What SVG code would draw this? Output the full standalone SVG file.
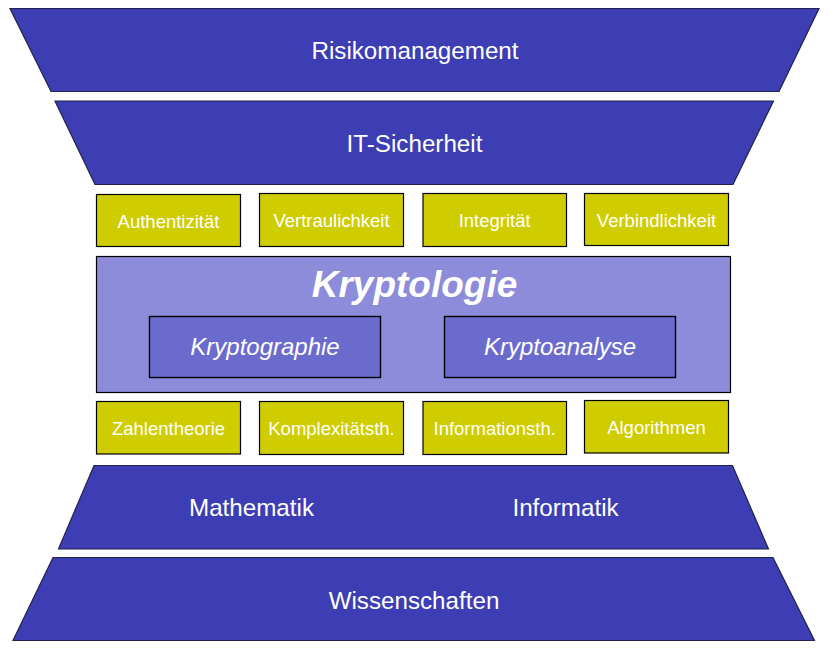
<svg xmlns="http://www.w3.org/2000/svg" width="829" height="651" viewBox="0 0 829 651">
<style>
.trap{fill:#3D3DB4;stroke:#22224a;stroke-width:1.2}
.yel{fill:#CFCC00;stroke:#000;stroke-width:1.2}
.big{fill:#8C8CDA;stroke:#000;stroke-width:1.2}
.sub{fill:#6B6BCD;stroke:#000;stroke-width:1.4}
text{font-family:"Liberation Sans",Arial,sans-serif;fill:#fff;text-anchor:middle}
.t24{font-size:24.2px}
.t18{font-size:18.5px}
.ti{font-size:24px;font-style:italic}
.tb{font-size:37px;font-style:italic;font-weight:bold}
</style>
<rect width="829" height="651" fill="#fff"/>
<g id="risikomanagement">
<polygon class="trap" points="10,8.5 819,8.5 779,91.5 51,91.5"/>
<text class="t24" x="415" y="59">Risikomanagement</text>
</g>
<g id="it-sicherheit">
<polygon class="trap" points="55,101 773.5,101 733,184.5 95,184.5"/>
<text class="t24" x="414.5" y="151.5">IT-Sicherheit</text>
</g>
<g id="authentizitaet">
<rect class="yel" x="96.5" y="194.5" width="144" height="52"/>
<text class="t18" x="168.5" y="227.5">Authentizität</text>
</g>
<g id="vertraulichkeit">
<rect class="yel" x="259.5" y="193.5" width="144" height="53"/>
<text class="t18" x="331.5" y="226.5">Vertraulichkeit</text>
</g>
<g id="integritaet">
<rect class="yel" x="423" y="193.5" width="143.5" height="53"/>
<text class="t18" x="494.7" y="226.5">Integrität</text>
</g>
<g id="verbindlichkeit">
<rect class="yel" x="584.5" y="193.5" width="144" height="52"/>
<text class="t18" x="656.5" y="226.5">Verbindlichkeit</text>
</g>
<g id="kryptologie">
<rect class="big" x="96.5" y="256.5" width="634" height="136"/>
<text class="tb" x="414.5" y="296.5">Kryptologie</text>
</g>
<g id="kryptographie">
<rect class="sub" x="149.5" y="316.5" width="231" height="61"/>
<text class="ti" x="265" y="355">Kryptographie</text>
</g>
<g id="kryptoanalyse">
<rect class="sub" x="444.5" y="316.5" width="231" height="61"/>
<text class="ti" x="560" y="355">Kryptoanalyse</text>
</g>
<g id="zahlentheorie">
<rect class="yel" x="96.5" y="401.5" width="144" height="52.5"/>
<text class="t18" x="168.5" y="434.5">Zahlentheorie</text>
</g>
<g id="komplexitaetsth">
<rect class="yel" x="259.5" y="401.5" width="144" height="53"/>
<text class="t18" x="331.5" y="434.5">Komplexitätsth.</text>
</g>
<g id="informationsth">
<rect class="yel" x="423" y="401.5" width="143.5" height="53"/>
<text class="t18" x="494.7" y="434.5">Informationsth.</text>
</g>
<g id="algorithmen">
<rect class="yel" x="584.5" y="400.5" width="144" height="52.5"/>
<text class="t18" x="656.5" y="433.5">Algorithmen</text>
</g>
<g id="mathematik-informatik">
<polygon class="trap" points="94,465.5 732.5,465.5 768.5,549 58.5,549"/>
<text class="t24" x="251.5" y="515.5">Mathematik</text>
<text class="t24" x="565.5" y="515.5">Informatik</text>
</g>
<g id="wissenschaften">
<polygon class="trap" points="53,557.5 773,557.5 814.5,640.5 13,640.5"/>
<text class="t24" x="414" y="608.5">Wissenschaften</text>
</g>
<g id="connectors"/>
</svg>
